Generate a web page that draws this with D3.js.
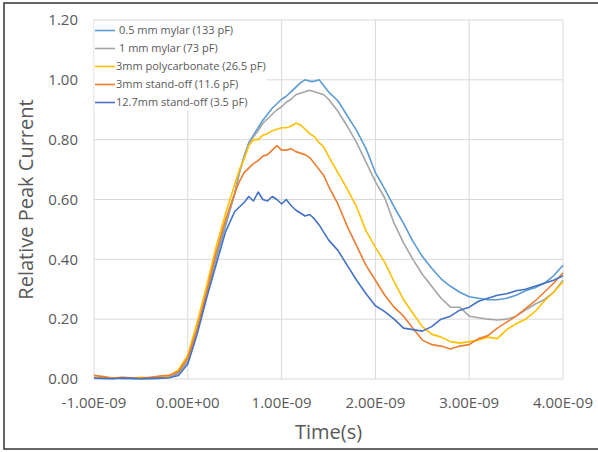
<!DOCTYPE html>
<html>
<head>
<meta charset="utf-8">
<script src="https://cdn.jsdelivr.net/npm/d3@7"></script>
<style>
  body { margin: 0; background: #fff; }
  svg { display: block; }
  text { font-family: "Open Sans", sans-serif; fill: #595959; }
</style>
</head>
<body>
<div id="chart"></div>
<script>
// time axis in ns (shared by all series), denser around the peak
const times = [-1.0, -0.9, -0.8, -0.7, -0.6, -0.5, -0.4, -0.3, -0.2, -0.1,
  0.0, 0.1, 0.2, 0.3, 0.4, 0.5,
  0.55, 0.6, 0.65, 0.7, 0.75, 0.8, 0.85, 0.9, 0.95, 1.0,
  1.05, 1.1, 1.15, 1.2, 1.25, 1.3, 1.35, 1.4, 1.45, 1.5,
  1.6, 1.7, 1.8, 1.9, 2.0, 2.1, 2.2, 2.3, 2.4, 2.5,
  2.6, 2.7, 2.8, 2.9, 3.0, 3.1, 3.2, 3.3, 3.4, 3.5,
  3.6, 3.7, 3.8, 3.9, 4.0];

const mylar05 = [0.005, 0.003, 0.002, 0.004, 0.002, 0.001, 0.003, 0.002, 0.006, 0.02,
  0.06, 0.16, 0.28, 0.40, 0.51, 0.62,
  0.69, 0.745, 0.79, 0.815, 0.84, 0.865, 0.885, 0.905, 0.92, 0.935,
  0.945, 0.96, 0.975, 0.99, 1.0, 0.995, 0.995, 1.0, 0.98, 0.96,
  0.93, 0.88, 0.83, 0.77, 0.69, 0.635, 0.575, 0.52, 0.46, 0.41,
  0.37, 0.335, 0.31, 0.29, 0.275, 0.27, 0.265, 0.265, 0.27, 0.28,
  0.295, 0.305, 0.32, 0.345, 0.38];

const mylar1 = [0.003, 0.002, 0.004, 0.002, 0.003, 0.002, 0.001, 0.003, 0.005, 0.018,
  0.06, 0.16, 0.28, 0.41, 0.52, 0.62,
  0.69, 0.74, 0.785, 0.81, 0.83, 0.855, 0.87, 0.885, 0.90, 0.91,
  0.925, 0.935, 0.95, 0.955, 0.96, 0.965, 0.96, 0.955, 0.95, 0.935,
  0.895, 0.845, 0.79, 0.725, 0.66, 0.605, 0.52, 0.455, 0.40, 0.35,
  0.31, 0.27, 0.24, 0.24, 0.21, 0.205, 0.20, 0.197, 0.20, 0.21,
  0.23, 0.25, 0.265, 0.29, 0.33];

const polycarb3 = [0.004, 0.006, 0.002, 0.005, 0.003, 0.006, 0.004, 0.008, 0.01, 0.03,
  0.08, 0.19, 0.31, 0.44, 0.55, 0.65,
  0.70, 0.735, 0.78, 0.80, 0.80, 0.815, 0.82, 0.83, 0.835, 0.84,
  0.84, 0.845, 0.855, 0.85, 0.835, 0.82, 0.81, 0.79, 0.775, 0.745,
  0.69, 0.635, 0.575, 0.495, 0.44, 0.39, 0.325, 0.265, 0.22, 0.175,
  0.15, 0.14, 0.125, 0.12, 0.125, 0.13, 0.14, 0.135, 0.165, 0.185,
  0.20, 0.225, 0.26, 0.29, 0.325];

const standoff3 = [0.012, 0.008, 0.003, 0.006, 0.004, 0.002, 0.006, 0.01, 0.012, 0.025,
  0.07, 0.17, 0.29, 0.42, 0.53, 0.62,
  0.66, 0.69, 0.705, 0.72, 0.73, 0.745, 0.75, 0.765, 0.78, 0.765,
  0.765, 0.77, 0.76, 0.755, 0.75, 0.74, 0.72, 0.70, 0.68, 0.645,
  0.585, 0.51, 0.445, 0.38, 0.33, 0.28, 0.24, 0.21, 0.17, 0.13,
  0.115, 0.11, 0.10, 0.11, 0.115, 0.135, 0.145, 0.17, 0.19, 0.21,
  0.235, 0.26, 0.29, 0.32, 0.355];

const standoff127 = [0.003, 0.002, 0.001, 0.003, 0.002, 0.001, 0.002, 0.003, 0.004, 0.012,
  0.05, 0.15, 0.27, 0.38, 0.49, 0.56,
  0.575, 0.59, 0.61, 0.595, 0.625, 0.60, 0.595, 0.61, 0.60, 0.585,
  0.60, 0.58, 0.565, 0.555, 0.545, 0.55, 0.535, 0.515, 0.49, 0.465,
  0.43, 0.38, 0.33, 0.285, 0.245, 0.225, 0.20, 0.17, 0.165, 0.16,
  0.175, 0.20, 0.21, 0.23, 0.24, 0.26, 0.27, 0.28, 0.285, 0.295,
  0.30, 0.31, 0.32, 0.33, 0.345];

const seriesNames = ["0.5 mm mylar (133 pF)", "1 mm mylar (73 pF)", "3mm polycarbonate (26.5 pF)",
  "3mm stand-off (11.6 pF)", "12.7mm stand-off (3.5 pF)"];
const seriesValues = [mylar05, mylar1, polycarb3, standoff3, standoff127];
const seriesColors = ["#5B9BD5", "#A5A5A5", "#FFC000", "#ED7D31", "#4472C4"];

const xTicks = [-1, 0, 1, 2, 3, 4];
const xTickLabels = ["-1.00E-09", "0.00E+00", "1.00E-09", "2.00E-09", "3.00E-09", "4.00E-09"];
const yTicks = [0, 0.2, 0.4, 0.6, 0.8, 1.0, 1.2];

const width = 598, height = 452;
const margin = {top: 20, right: 35, bottom: 73, left: 94};
const plotW = width - margin.left - margin.right,
  plotH = height - margin.top - margin.bottom;

const svg = d3.select("#chart")
  .append("svg")
  .attr("width", width)
  .attr("height", height);

// outer frame (right side runs off the picture)
svg.append("rect")
  .attr("x", 4)
  .attr("y", 3)
  .attr("width", 620)
  .attr("height", 446)
  .attr("fill", "none")
  .attr("stroke", "#333")
  .attr("stroke-width", 1.5);

const g = svg.append("g")
  .attr("transform", "translate(" + margin.left + "," + margin.top + ")");

const xScale = d3.scaleLinear().domain([-1, 4]).range([0, plotW]);
const yScale = d3.scaleLinear().domain([0, 1.2]).range([plotH, 0]);

// grid
g.append("g")
  .selectAll("line")
  .data(yTicks)
  .join("line")
  .attr("x1", 0)
  .attr("x2", plotW)
  .attr("y1", d => yScale(d))
  .attr("y2", d => yScale(d))
  .attr("stroke", "#D9D9D9")
  .attr("stroke-width", 1);

g.append("g")
  .selectAll("line")
  .data(xTicks)
  .join("line")
  .attr("x1", d => xScale(d))
  .attr("x2", d => xScale(d))
  .attr("y1", 0)
  .attr("y2", plotH)
  .attr("stroke", "#D9D9D9")
  .attr("stroke-width", 1);

// tick labels
g.append("g")
  .selectAll("text")
  .data(yTicks)
  .join("text")
  .attr("x", -16)
  .attr("y", d => yScale(d))
  .attr("dy", "0.35em")
  .attr("text-anchor", "end")
  .style("font-size", "15px")
  .text(d => d.toFixed(2));

g.append("g")
  .selectAll("text")
  .data(xTicks)
  .join("text")
  .attr("x", d => xScale(d))
  .attr("y", plotH + 24)
  .attr("dy", "0.35em")
  .attr("text-anchor", "middle")
  .style("font-size", "15px")
  .text((d, i) => xTickLabels[i]);

// axis titles
svg.append("text")
  .attr("x", margin.left + plotW / 2)
  .attr("y", 432)
  .attr("dy", "0.35em")
  .attr("text-anchor", "middle")
  .style("font-size", "20px")
  .text("Time(s)");

svg.append("text")
  .attr("transform", "translate(26," + (margin.top + plotH / 2) + ") rotate(-90)")
  .attr("dy", "0.35em")
  .attr("text-anchor", "middle")
  .style("font-size", "20px")
  .text("Relative Peak Current");

// legend background hides the grid behind it
const legend = g.append("g");
legend.append("rect")
  .attr("x", 0.5)
  .attr("y", 1)
  .attr("width", 172)
  .attr("height", 90)
  .attr("fill", "#fff");

const line = d3.line()
  .x((d, i) => xScale(times[i]))
  .y(d => yScale(d));

g.append("g")
  .selectAll("path")
  .data(seriesValues)
  .join("path")
  .attr("d", line)
  .attr("fill", "none")
  .attr("stroke", (d, i) => seriesColors[i])
  .attr("stroke-width", 1.6)
  .attr("stroke-linejoin", "round");

const rows = legend.selectAll("g")
  .data(seriesNames)
  .join("g")
  .attr("transform", (d, i) => "translate(0," + (10.5 + i * 18) + ")");

rows.append("line")
  .attr("x1", 1)
  .attr("x2", 21)
  .attr("stroke", (d, i) => seriesColors[i])
  .attr("stroke-width", 1.6);

rows.append("text")
  .attr("x", (d, i) => i < 2 ? 25 : 22)
  .attr("dy", "0.35em")
  .style("font-size", "11px")
  .text(d => d);
</script>
</body>
</html>
